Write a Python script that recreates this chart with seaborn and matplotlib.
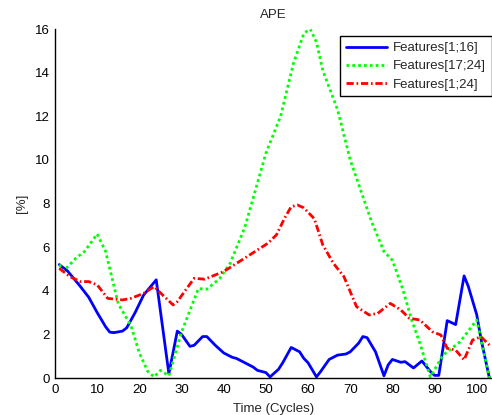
import matplotlib
matplotlib.use("Agg")
import matplotlib.pyplot as plt
import seaborn as sns
import pandas as pd

# Features[1;16]
x_f1_16 = [1, 3, 6, 8, 10, 12, 13, 14, 16, 17, 19, 21, 24, 27, 29, 30, 32, 33, 35, 36,
           38, 40, 42, 43, 45, 47, 48, 50, 51, 53, 54, 56, 58, 59, 60, 62, 63, 65, 67, 69,
           70, 72, 73, 74, 76, 78, 79, 80, 82, 83, 85, 87, 89, 90, 91, 93, 95, 97, 98, 100,
           101, 103]
y_f1_16 = [5.2, 4.9, 4.2, 3.7, 3.0, 2.35, 2.1, 2.08, 2.15, 2.3, 3.0, 3.8, 4.5, 0.2, 2.15, 2.0,
           1.45, 1.5, 1.9, 1.9, 1.5, 1.15, 0.95, 0.9, 0.7, 0.5, 0.35, 0.25, 0.05, 0.4,
           0.7, 1.4, 1.2, 0.9, 0.7, 0.05, 0.3, 0.85, 1.05, 1.1, 1.2, 1.6, 1.9, 1.85,
           1.2, 0.1, 0.6, 0.85, 0.72, 0.75, 0.46, 0.78, 0.3, 0.12, 0.12, 2.63, 2.45, 4.68,
           4.2, 2.9, 1.8, 0.0]

# Features[17;24]
x_f17_24 = [1, 2, 5, 7, 10, 12, 15, 18, 20, 22, 23.5, 25, 27, 30, 34, 36, 39, 41.5, 45,
            50, 53.5, 56.5, 59, 60.5, 62, 63.5, 67, 70, 75, 78, 80, 82.5, 84.5, 86.5, 89,
            92, 96, 100, 103]
y_f17_24 = [5.2, 4.9, 5.5, 5.8, 6.6, 5.8, 3.4, 2.4, 1.15, 0.3, 0.05, 0.35, 0.1, 2.1, 4.1,
            4.07, 4.55, 5.25, 6.9, 10.3, 12.0, 14.4, 15.8, 16.0, 15.4, 14.1, 12.3, 10.0,
            7.2, 5.8, 5.4, 4.05, 2.7, 1.6, 0.05, 1.05, 1.65, 2.66, 0.0]

# Features[1;24]
x_f1_24 = [1, 3.5, 6, 8, 10, 12.5, 16, 18, 21, 23.5, 25.5, 28, 29, 31, 33, 35.5, 40, 45.5,
           50.5, 52.5, 54.5, 56, 57.5, 59, 61.5, 63.5, 66, 68.5, 71.5, 74.5, 76.5, 79.5,
           82, 84, 86.5, 89.5, 91.5, 93, 95, 97, 99, 101, 103]
y_f1_24 = [5.03, 4.65, 4.42, 4.42, 4.27, 3.65, 3.58, 3.65, 3.88, 4.19, 3.81, 3.35, 3.5, 4.04,
           4.57, 4.53, 4.88, 5.56, 6.18, 6.56, 7.35, 7.85, 7.93, 7.8, 7.3, 6.1, 5.26, 4.65,
           3.27, 2.89, 2.96, 3.42, 3.12, 2.74, 2.66, 2.12, 1.97, 1.36, 1.28, 0.83, 1.74,
           1.89, 1.51]

labels = ["Features[1;16]", "Features[17;24]", "Features[1;24]"]

frames = []
for lab, xs, ys in zip(labels, [x_f1_16, x_f17_24, x_f1_24], [y_f1_16, y_f17_24, y_f1_24]):
    frames.append(pd.DataFrame({"cycle": xs, "ape": ys, "set": lab}))
df = pd.concat(frames, ignore_index=True)

sns.set_style("white")
plt.rcParams["font.family"] = ["Liberation Sans", "DejaVu Sans"]
plt.rcParams["font.size"] = 9.5

fig = plt.figure(figsize=(4.92, 4.15), dpi=100)
ax = fig.add_axes([55 / 492, 37 / 415, 436.5 / 492, 349 / 415])

palette = {labels[0]: "#0000ff", labels[1]: "#00ff00", labels[2]: "#ff0000"}
# solid, fine dots, short dash-dot (in units of line width)
dash_styles = {labels[0]: None, labels[1]: (1, 1.1), labels[2]: (2.6, 1.0, 0.6, 1.0)}

for lab in labels:
    sub = df[df["set"] == lab]
    line_ax = sns.lineplot(data=sub, x="cycle", y="ape", ax=ax, color=palette[lab],
                           linewidth=2.0, label=lab, sort=False, estimator=None)
    line = line_ax.get_lines()[-1]
    if dash_styles[lab] is not None:
        line.set_dashes(dash_styles[lab])

ax.set_xlim(0, 103.5)
ax.set_ylim(0, 16)
ax.set_xticks(range(0, 101, 10))
ax.set_yticks(range(0, 17, 2))
ax.tick_params(direction="in", length=3, width=0.8, labelsize=9.5, colors="black",
               pad=4)
for side in ["top", "right"]:
    ax.spines[side].set_visible(False)
for side in ["left", "bottom"]:
    ax.spines[side].set_color("black")
    ax.spines[side].set_linewidth(1.0)

ax.set_title("APE", fontsize=9.5, pad=8)
ax.set_xlabel("Time (Cycles)", fontsize=9.5, labelpad=5)
ax.set_ylabel("[%]", fontsize=9.5, labelpad=5)

leg = ax.legend(loc="upper right", bbox_to_anchor=(1.0, (378 - 36) / 349),
                frameon=True, fancybox=False, framealpha=1, edgecolor="black",
                fontsize=9.5, handlelength=3.1, handletextpad=0.4, labelspacing=0.45,
                borderpad=0.45, borderaxespad=0)
leg.get_frame().set_linewidth(1.0)
for handle, lab in zip(leg.get_lines(), labels):
    if dash_styles[lab] is not None:
        handle.set_dashes(dash_styles[lab])

fig.savefig("out.png", dpi=100)
